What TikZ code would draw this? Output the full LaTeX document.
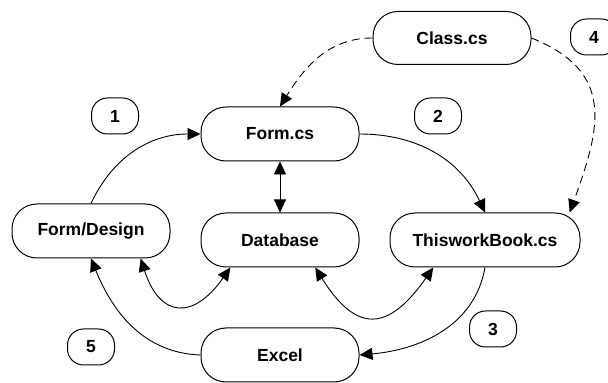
\documentclass[tikz,border=0pt]{standalone}
\usepackage{fontspec}
\setmainfont{Liberation Sans}
\usetikzlibrary{arrows.meta}
\begin{document}
\begin{tikzpicture}[x=1pt, y=1pt,
    box/.style={draw, line width=1pt, rounded corners=25pt, minimum width=158pt, minimum height=54pt, inner sep=0pt, font=\fontsize{17.5}{20}\selectfont\bfseries},
    badge/.style={draw, line width=1pt, rounded corners=16pt, minimum width=47pt, minimum height=36pt, inner sep=0pt, font=\fontsize{17.5}{20}\selectfont\bfseries},
    flow/.style={line width=0.9pt, -{Triangle[length=13pt, width=12pt]}},
    both/.style={line width=0.9pt, {Triangle[length=13pt, width=12pt]}-{Triangle[length=13pt, width=12pt]}},
    link/.style={line width=0.9pt, dash pattern=on 8pt off 5pt, -{Triangle[length=13pt, width=12pt]}}]
    \clip (0,0) rectangle (608,383);
    % Knoten
    \node[box] (fd) at (91,152)  {Form/Design};
    \node[box] (fc) at (280,249) {Form.cs};
    \node[box] (db) at (280,143) {Database};
    \node[box, minimum width=190pt] (tb) at (485,143) {ThisworkBook.cs};
    \node[box] (ex) at (280,28)  {Excel};
    \node[box, minimum height=53pt] (cl) at (452,345) {Class.cs};
    % Nummern
    \node[badge] (b1) at (115,267) {1};
    \node[badge] (b2) at (438,267) {2};
    \node[badge] (b3) at (493,54)  {3};
    \node[badge] (b4) at (594,346) {4};
    \node[badge] (b5) at (91,36)   {5};
    % Kreislauf
    \draw[flow] (fd.north) to[out=65, in=180] (fc.west);
    \draw[flow] (fc.east) to[out=0, in=115] (tb.north);
    \draw[flow] (tb.south) to[out=-100, in=5] (ex.east);
    \draw[flow] (ex.west) to[out=178, in=-68] (fd.south);
    % Datenbank
    \draw[both] (fd.-29) to[out=-72, in=-125, looseness=1.8] (db.-151);
    \draw[both] (db.-38.5) to[out=-58, in=-125, looseness=1.7] (tb.-152);
    \draw[both] (fc.south) -- (db.north);
    % Klassen
    \draw[link] (cl.west) to[out=180, in=58] (fc.north);
    \draw[link] (cl.east) to[out=-22, in=70, looseness=1.3] (tb.18);
\end{tikzpicture}
\end{document}
